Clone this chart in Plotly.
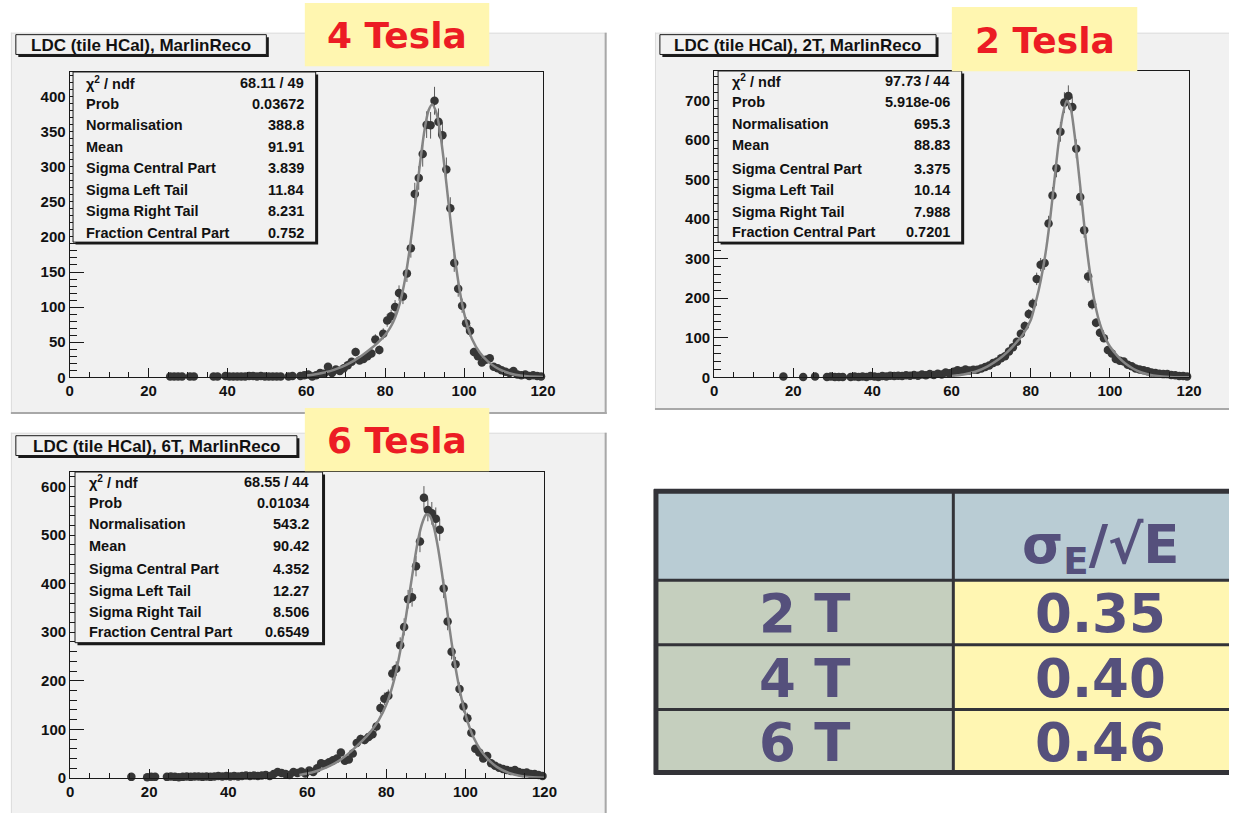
import numpy as np
import plotly.graph_objects as go

W, H = 1242, 821

# ---------------- data ----------------
x_4T = [25.5, 26.5, 27.5, 28.5, 30.5, 31.5, 36.5, 37.5,
        39.5, 40.5, 41.5, 42.5, 43.5, 44.5, 45.5, 46.5, 47.5, 48.5, 49.5, 50.5, 51.5, 52.5, 53.5,
        55.5, 56.5,
        58.5, 59.5, 60.5, 61.5, 62.5, 63.5, 64.5, 65.5, 66.5, 67.5, 68.5, 69.5,
        70.5, 71.5, 72.5, 73.5, 74.5, 75.5, 76.5, 77.5, 78.5, 79.5,
        80.5, 81.5, 82.5, 83.5, 84.5, 85.5, 86.5, 87.5, 88.5, 89.5,
        90.5, 91.5, 92.5, 93.5, 94.5, 95.5, 96.5, 97.5, 98.5, 99.5,
        100.5, 101.5, 102.5, 103.5, 104.5, 105.5, 106.5, 107.5, 108.5, 109.5,
        110.5, 111.5, 112.5, 113.5, 114.5, 115.5, 116.5, 117.5, 118.5, 119.5]
y_4T = [1, 1, 1, 1, 1, 1, 1, 1,
        2, 1, 1, 1, 1, 1, 2, 2, 1, 2, 1, 1, 1, 1, 1,
        1, 2,
        2, 3, 4, 1, 3, 6, 5, 15, 6, 11, 9, 13,
        17, 22, 36, 24, 26, 30, 34, 54, 39, 62,
        81, 87, 100, 120, 115, 148, 184, 261, 284, 318,
        360, 359, 394, 364, 345, 296, 241, 163, 126, 102,
        77, 66, 36, 30, 21, 25, 27, 15, 13, 10,
        8, 6, 9, 4, 3, 4, 2, 3, 2, 1]
fit_x_4T = [60, 62, 64, 66, 68, 70, 72, 74, 76, 78,
            80, 81, 82, 83, 84, 85, 86, 87, 88, 89,
            90, 91, 91.9, 93, 94, 95, 96, 97, 98, 99,
            100, 101, 102, 104, 106, 108, 110, 113, 116, 120]
fit_y_4T = [2.6, 4, 6, 8.8, 12.6, 17.4, 23.4, 30.7, 39.1, 48.8,
            60.5, 68.2, 78.4, 92.5, 112, 139, 174.6, 217.6, 265.4, 312.9,
            353.5, 380.4, 388.8, 376.4, 345.5, 301.3, 251, 201, 156.4, 119.7,
            91.3, 70.1, 54.7, 34.8, 22.7, 14.3, 8.6, 3.6, 1.33, 0.29]

x_2T = [17.5, 22.5, 25.5, 28.5, 29.5, 30.5, 31.5, 32.5,
        34.5, 35.5, 36.5, 37.5, 38.5, 39.5, 40.5, 41.5, 42.5, 43.5,
        44.5, 45.5, 46.5, 47.5, 48.5, 49.5, 50.5, 51.5, 52.5, 53.5,
        54.5, 55.5, 56.5, 57.5, 58.5, 59.5, 60.5, 61.5, 62.5, 63.5,
        64.5, 65.5, 66.5, 67.5, 68.5, 69.5, 70.5, 71.5, 72.5, 73.5,
        74.5, 75.5, 76.5, 77.5, 78.5, 79.5, 80.5, 81.5, 82.5, 83.5,
        84.5, 85.5, 86.5, 87.5, 88.5, 89.5, 90.5, 91.5, 92.5, 93.5,
        94.5, 95.5, 96.5, 97.5, 98.5, 99.5, 100.5, 101.5, 102.5, 103.5,
        104.5, 105.5, 106.5, 107.5, 108.5, 109.5, 110.5, 111.5, 112.5, 113.5,
        114.5, 115.5, 116.5, 117.5, 118.5, 119.5]
y_2T = [2, 1, 2, 1, 2, 1, 1, 1,
        1, 2, 1, 2, 1, 3, 2, 1, 3, 2,
        4, 3, 4, 3, 5, 4, 6, 4, 7, 5,
        8, 6, 9, 7, 12, 10, 14, 18, 16, 20,
        17, 19, 19, 22, 26, 30, 36, 40, 48, 53,
        65, 76, 90, 110, 130, 160, 186, 249, 285, 289,
        389, 460, 529, 621, 695, 712, 684, 578, 456, 372,
        255, 185, 138, 113, 99, 69, 60, 46, 42, 40,
        32, 28, 22, 20, 18, 15, 12, 11, 9, 8,
        8, 6, 5, 3, 3, 2]
fit_x_2T = [60, 63, 66, 69, 72, 74, 76, 78, 80, 81,
            82, 83, 84, 85, 86, 87, 88, 89.1, 90, 91,
            92, 93, 94, 95, 96, 97, 98, 99, 100, 102,
            104, 106, 108, 110, 112, 115, 118, 120]
fit_y_2T = [3, 7, 14, 27, 46, 63, 84, 108, 145, 180,
            220, 270, 332, 410, 500, 590, 660, 700, 685, 620,
            530, 435, 340, 262, 198, 152, 120, 96, 78, 53,
            34, 21, 12, 6.5, 3.2, 1, 0.3, 0.1]

x_6T = [15.5, 19.5, 20.5, 21.5,
        24.5, 25.5, 26.5, 27.5, 28.5, 29.5, 30.5, 31.5, 32.5, 33.5,
        34.5, 35.5, 36.5, 37.5, 38.5, 39.5, 40.5, 41.5, 42.5, 43.5,
        44.5, 45.5, 46.5, 47.5, 48.5, 49.5, 50.5, 51.5, 52.5, 53.5,
        54.5, 55.5, 56.5, 57.5, 58.5, 59.5, 60.5, 61.5, 62.5, 63.5,
        64.5, 65.5, 66.5, 67.5, 68.5, 69.5, 70.5, 71.5, 72.5, 73.5,
        74.5, 75.5, 76.5, 77.5, 78.5, 79.5, 80.5, 81.5, 82.5, 83.5,
        84.5, 85.5, 86.5, 87.5, 88.5, 89.5, 90.5, 91.5, 92.5, 93.5,
        94.5, 95.5, 96.5, 97.5, 98.5, 99.5, 100.5, 101.5, 102.5, 103.5,
        104.5, 105.5, 106.5, 107.5, 108.5, 109.5, 110.5, 111.5, 112.5, 113.5,
        114.5, 115.5, 116.5, 117.5, 118.5, 119.5]
y_6T = [2, 1, 2, 2,
        2, 3, 2, 1, 2, 3, 2, 3, 3, 2,
        3, 2, 3, 4, 3, 4, 3, 4, 3, 4,
        5, 4, 5, 4, 5, 6, 4, 8, 12, 10,
        8, 6, 12, 10, 13, 9, 15, 12, 20, 30,
        28, 32, 36, 40, 52, 35, 38, 50, 72, 80,
        78, 84, 90, 106, 144, 163, 169, 215, 225, 273,
        311, 368, 372, 436, 487, 577, 552, 545, 534, 511,
        390, 322, 260, 234, 183, 147, 123, 93, 60, 52,
        40, 45, 30, 25, 21, 18, 16, 14, 16, 12,
        10, 11, 8, 8, 6, 4]
fit_x_6T = [58, 60, 62, 65, 68, 71, 74, 76, 78, 80,
            82, 84, 85, 86, 87, 88, 89, 90, 90.4, 91,
            92, 93, 94, 95, 96, 97, 98, 99, 100, 101,
            102, 104, 106, 108, 111, 114, 117, 120]
fit_y_6T = [6, 9, 13, 22, 35, 54, 77, 95, 118, 151,
            203, 283, 334, 388, 441, 489, 523, 542, 543, 540,
            517, 477, 425, 367, 307, 252, 204, 164, 131, 105,
            84, 55, 36, 22, 10, 4, 1.4, 0.4]

x_ticks = [0, 20, 40, 60, 80, 100, 120]
y_ticks_4T = [0, 50, 100, 150, 200, 250, 300, 350, 400]
y_ticks_2T = [0, 100, 200, 300, 400, 500, 600, 700]
y_ticks_6T = [0, 100, 200, 300, 400, 500, 600]

stat_names = ["χ<sup>2</sup> / ndf", "Prob", "Normalisation", "Mean",
              "Sigma Central Part", "Sigma Left Tail", "Sigma Right Tail",
              "Fraction Central Part"]
stat_vals_4T = ["68.11 / 49", "0.03672", "388.8", "91.91", "3.839", "11.84", "8.231", "0.752"]
stat_vals_2T = ["97.73 / 44", "5.918e-06", "695.3", "88.83", "3.375", "10.14", "7.988", "0.7201"]
stat_vals_6T = ["68.55 / 44", "0.01034", "543.2", "90.42", "4.352", "12.27", "8.506", "0.6549"]
title_4T = "LDC (tile HCal), MarlinReco"
title_2T = "LDC (tile HCal), 2T, MarlinReco"
title_6T = "LDC (tile HCal), 6T, MarlinReco"
tesla_4T, tesla_2T, tesla_6T = "4 Tesla", "2 Tesla", "6 Tesla"

table_header = "σ<sub>E</sub>/√E"
table_fields = ["2 T", "4 T", "6 T"]
table_values = ["0.35", "0.40", "0.46"]

# ---------------- styling / layout ----------------
CANVAS = "#f1f1f1"
INK = "#1a1a1a"
YELLOW = "#fff6b0"
RED = "#ec1c24"
PURPLE = "#55507c"


def fx(p):
    return p / W


def fy(p):
    return 1 - p / H


panels = [
    dict(x=x_4T, y=y_4T, fxs=fit_x_4T, fys=fit_y_4T, vals=stat_vals_4T, title=title_4T, tesla=tesla_4T,
         yt=y_ticks_4T, frame=(66.5, 72.7, 546.5, 381.0), ymax=435, ymin=10,
         canvas=(7, 33, 611, 418), bevel_r=True, bevel_b=True,
         tbox=(12, 35, 266, 55), tc=(139, 46),
         sbox=(70, 72.7, 316, 244.5), rows=[84, 105, 126.5, 148, 170, 192, 213.5, 235], lx=81.5, vx=306,
         yellow=(305, 3, 492, 67)),
    dict(x=x_2T, y=y_2T, fxs=fit_x_2T, fys=fit_y_2T, vals=stat_vals_2T, title=title_2T, tesla=tesla_2T,
         yt=y_ticks_2T, frame=(720, 71.7, 1201.5, 381), ymax=775, ymin=20,
         canvas=(660, 33, 1242, 414), bevel_r=False, bevel_b=True,
         tbox=(665, 35, 945, 55), tc=(805, 46),
         sbox=(724, 71.7, 971, 244.5), rows=[82, 103.5, 125, 146.5, 170.5, 192, 214, 234], lx=736.5, vx=961,
         yellow=(961, 7, 1149, 72)),
    dict(x=x_6T, y=y_6T, fxs=fit_x_6T, fys=fit_y_6T, vals=stat_vals_6T, title=title_6T, tesla=tesla_6T,
         yt=y_ticks_6T, frame=(67, 476.7, 548, 785.5), ymax=630, ymin=20,
         canvas=(7, 437, 611, 821), bevel_r=True, bevel_b=False,
         tbox=(12, 440, 297, 460), tc=(154.5, 451),
         sbox=(72, 476.7, 323, 649), rows=[487, 508, 529.5, 551, 575, 597, 618.5, 638.5], lx=84, vx=311.5,
         yellow=(305, 412, 492, 476)),
]

fig = go.Figure()
shapes = []
annotations = []
SANS = "Liberation Sans, Arial, sans-serif"
tickfont = dict(family=SANS, size=15, color="#111")
statfont = dict(family=SANS, size=14.5, color="#111")


def rect(x0, y0, x1, y1, fill, line_color=None, lw=0, layer="above"):
    shapes.append(dict(type="rect", xref="paper", yref="paper",
                       x0=fx(x0), x1=fx(x1), y0=fy(y1), y1=fy(y0),
                       fillcolor=fill, layer=layer,
                       line=dict(width=lw, color=line_color or fill)))


def seg(x0, y0, x1, y1, color, lw, layer="above"):
    shapes.append(dict(type="line", xref="paper", yref="paper",
                       x0=fx(x0), x1=fx(x1), y0=fy(y0), y1=fy(y1),
                       layer=layer, line=dict(color=color, width=lw)))


def shadow_box(x0, y0, x1, y1):
    rect(x0 + 2.5, y0 + 2.5, x1 + 2.5, y1 + 2.5, INK)
    rect(x0, y0, x1, y1, CANVAS, INK, 1)


def bold(t):
    return "<b>" + t + "</b>"


layout_axes = {}
for i, p in enumerate(panels):
    n = "" if i == 0 else str(i + 1)
    xa, ya = "x" + n, "y" + n
    f0, f1, f2, f3 = p["frame"]
    layout_axes["xaxis" + n] = dict(
        domain=[fx(f0), fx(f2)], range=[0, 120], anchor=ya,
        tickmode="array", tickvals=x_ticks, ticktext=[bold(str(v)) for v in x_ticks],
        ticks="inside", ticklen=9, tickwidth=1, tickcolor=INK,
        minor=dict(ticks="inside", ticklen=5, tick0=0, dtick=5, tickwidth=1, tickcolor=INK),
        showline=True, linecolor=INK, linewidth=1, mirror=True,
        showgrid=False, zeroline=False, tickfont=tickfont, fixedrange=True)
    layout_axes["yaxis" + n] = dict(
        domain=[fy(f3), fy(f1)], range=[0, p["ymax"]], anchor=xa,
        tickmode="array", tickvals=p["yt"], ticktext=[bold(str(v)) for v in p["yt"]],
        ticks="inside", ticklen=14, tickwidth=1, tickcolor=INK,
        minor=dict(ticks="inside", ticklen=7, tick0=0, dtick=p["ymin"], tickwidth=1, tickcolor=INK),
        showline=True, linecolor=INK, linewidth=1, mirror=True,
        showgrid=False, zeroline=False, tickfont=tickfont, fixedrange=True)

    yv = np.array(p["y"], dtype=float)
    fig.add_trace(go.Scatter(
        x=p["x"], y=p["y"], mode="markers", xaxis=xa, yaxis=ya,
        marker=dict(size=8.5, color="#363636"),
        error_y=dict(type="data", array=np.sqrt(yv), color="#5a5a5a", thickness=1, width=0),
        cliponaxis=False, showlegend=False, hoverinfo="skip"))
    fig.add_trace(go.Scatter(
        x=p["fxs"], y=p["fys"], mode="lines", xaxis=xa, yaxis=ya,
        line=dict(color="#858585", width=2.5, shape="spline", smoothing=0.8),
        showlegend=False, hoverinfo="skip"))

    # canvas with bevel
    c0, c1, c2, c3 = p["canvas"]
    rect(c0, c1, c2, c3, CANVAS, layer="below")
    seg(c0, c1 + 0.5, c2, c1 + 0.5, "#dcdcdc", 1, layer="below")
    seg(c0 + 0.5, c1, c0 + 0.5, c3, "#dcdcdc", 1, layer="below")
    if p["bevel_r"]:
        seg(c2 - 1, c1, c2 - 1, c3, "#a8a8a8", 2, layer="below")
    if p["bevel_b"]:
        seg(c0, c3 - 1, c2, c3 - 1, "#a8a8a8", 2, layer="below")

    # title box
    shadow_box(*p["tbox"])
    annotations.append(dict(xref="paper", yref="paper", x=fx(p["tc"][0]), y=fy(p["tc"][1]),
                            text=bold(p["title"]), showarrow=False, xanchor="center", yanchor="middle",
                            font=dict(family=SANS, size=17, color="#111")))
    # stats box
    shadow_box(*p["sbox"])
    for name, val, ry in zip(stat_names, p["vals"], p["rows"]):
        annotations.append(dict(xref="paper", yref="paper", x=fx(p["lx"]), y=fy(ry), text=bold(name),
                                showarrow=False, xanchor="left", yanchor="middle", font=statfont))
        annotations.append(dict(xref="paper", yref="paper", x=fx(p["vx"]), y=fy(ry), text=bold(val),
                                showarrow=False, xanchor="right", yanchor="middle", font=statfont))

# yellow Tesla labels (drawn after all canvases so they sit on top)
for p in panels:
    y0x, y0y, y1x, y1y = p["yellow"]
    rect(y0x, y0y, y1x, y1y, YELLOW)
    annotations.append(dict(xref="paper", yref="paper", x=fx((y0x + y1x) / 2), y=fy((y0y + y1y) / 2 + 1),
                            text=bold(p["tesla"]), showarrow=False, xanchor="center", yanchor="middle",
                            font=dict(family="DejaVu Sans, Verdana, sans-serif", size=36, color=RED)))

# ---------------- table (right side runs off the page) ----------------
TL, TT, TR, TB = 659, 494, 1242, 782
CX = 962.5
ROW_Y = [494, 586, 651, 716.5, 782]
rect(TL, ROW_Y[0], TR, ROW_Y[1], "#b9ccd4")
for r in range(3):
    rect(TL, ROW_Y[r + 1], CX, ROW_Y[r + 2], "#c5cfbe")
    rect(CX, ROW_Y[r + 1], TR, ROW_Y[r + 2], "#fff6b2")
BORDER = "#333338"
for yy in ROW_Y[1:-1]:
    seg(TL, yy, TR, yy, BORDER, 3)
seg(CX, TT, CX, TB, BORDER, 3)
seg(TL + 2, TT, TL + 2, TB, BORDER, 5)
seg(TL, TT + 2, TR, TT + 2, BORDER, 5)
seg(TL, TB - 2, TR, TB - 2, BORDER, 5)

tabfont = dict(family="DejaVu Sans, Verdana, sans-serif", size=53, color=PURPLE)
annotations.append(dict(xref="paper", yref="paper", x=fx(1112), y=fy(554), text=bold(table_header),
                        showarrow=False, xanchor="center", yanchor="middle", font=tabfont))
for r in range(3):
    cy = (ROW_Y[r + 1] + ROW_Y[r + 2]) / 2 + 1
    annotations.append(dict(xref="paper", yref="paper", x=fx(812), y=fy(cy), text=bold(table_fields[r]),
                            showarrow=False, xanchor="center", yanchor="middle", font=tabfont))
    annotations.append(dict(xref="paper", yref="paper", x=fx(1112), y=fy(cy), text=bold(table_values[r]),
                            showarrow=False, xanchor="center", yanchor="middle", font=tabfont))

fig.update_layout(
    width=W, height=H, margin=dict(l=0, r=0, t=0, b=0),
    paper_bgcolor="white", plot_bgcolor=CANVAS,
    shapes=shapes, annotations=annotations, showlegend=False,
    **layout_axes)

fig.write_html("out.html")
